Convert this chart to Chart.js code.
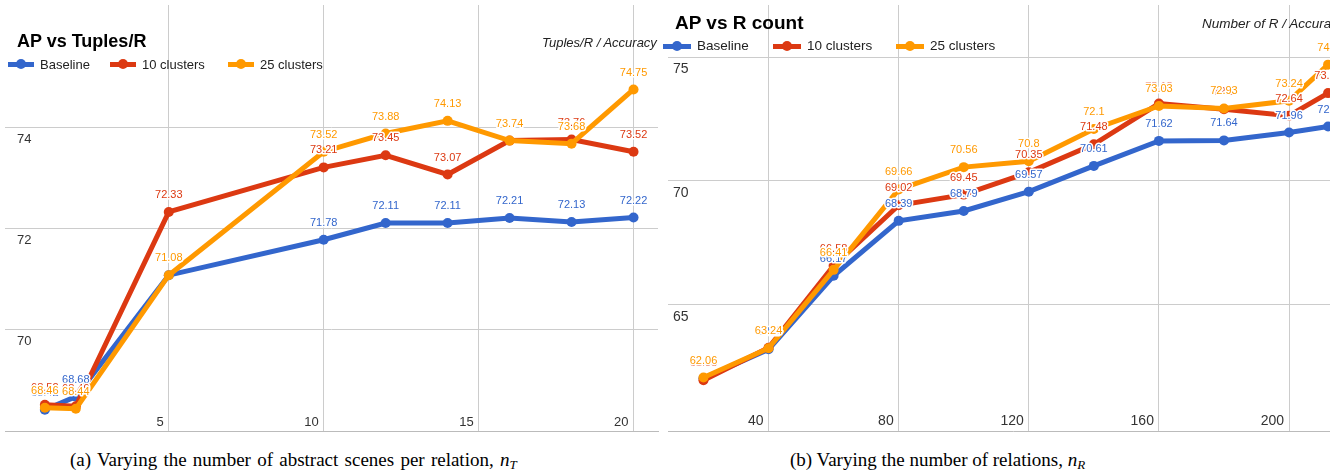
<!DOCTYPE html>
<html>
<head>
<meta charset="utf-8">
<script src="https://cdn.jsdelivr.net/npm/chart.js@4.4.0/dist/chart.umd.min.js"></script>
<style>
  html, body { margin: 0; padding: 0; background: #fff; }
  #wrap { position: relative; width: 1330px; height: 473px; overflow: hidden; }
  canvas { position: absolute; top: 0; }
  .t { position: absolute; white-space: nowrap; font-family: "Liberation Sans", Arial, sans-serif; color: #000; }
  .ttl { font-weight: bold; }
  .ax { font-style: italic; color: #222; }
  .mk { position: absolute; height: 5px; }
  .dot { position: absolute; width: 10px; height: 10px; border-radius: 50%; }
  .cap { position: absolute; white-space: nowrap; font-family: "Liberation Serif", "Times New Roman", serif; font-size: 19px; line-height: 19px; color: #000; }
  .cap sub { font-size: 13px; vertical-align: -3px; line-height: 0; }
</style>
</head>
<body>
<div id="wrap">
  <canvas id="left" width="663" height="436" style="left:0"></canvas>
  <canvas id="right" width="700" height="436" style="left:663px"></canvas>

  <div class="t ttl" style="left:17px;top:32px;font-size:18px;line-height:18px">AP vs Tuples/R</div>
  <div class="t ax" style="left:542px;top:36px;font-size:13px;line-height:13px">Tuples/R / Accuracy</div>

  <div class="t ttl" style="left:675px;top:13px;font-size:19px;line-height:19px">AP vs R count</div>
  <div class="t ax" style="left:1202px;top:17px;font-size:13.5px;line-height:13.5px">Number of R / Accuracy</div>

  <div class="cap" style="left:70px;top:450px;word-spacing:1.5px">(a) Varying the number of abstract scenes per relation, <i>n</i><sub><i>T</i></sub></div>
  <div class="cap" style="left:790px;top:450px">(b) Varying the number of relations, <i>n</i><sub><i>R</i></sub></div>
</div>
<script>
// series names / colours
const seriesNames = ['Baseline', '10 clusters', '25 clusters'];
const seriesColors = ['#3366cc', '#dc3912', '#ff9900'];

// (a) AP vs tuples per relation
const xTuples = [1, 2, 5, 10, 12, 14, 16, 18, 20];
const baselineT = [68.42, 68.68, 71.08, 71.78, 72.11, 72.11, 72.21, 72.13, 72.22];
const clusters10T = [68.52, 68.49, 72.33, 73.21, 73.45, 73.07, 73.74, 73.76, 73.52];
const clusters25T = [68.46, 68.44, 71.08, 73.52, 73.88, 74.13, 73.74, 73.68, 74.75];
const xTicksT = [5, 10, 15, 20];
const yTicksT = [70, 72, 74];

// (b) AP vs number of relations
const xRCount = [20, 40, 60, 80, 100, 120, 140, 160, 180, 200, 212];
const baselineR = [62.03, 63.2, 66.17, 68.39, 68.79, 69.57, 70.61, 71.62, 71.64, 71.96, 72.2];
const clusters10R = [61.95, 63.26, 66.58, 69.02, 69.45, 70.35, 71.48, 73.13, 72.9, 72.64, 73.55];
const clusters25R = [62.06, 63.24, 66.41, 69.66, 70.56, 70.8, 72.1, 73.03, 72.93, 73.24, 74.7];
const xTicksR = [40, 80, 120, 160, 200];
const yTicksR = [65, 70, 75];

const FONT = '"Liberation Sans", Arial, sans-serif';

// value annotations drawn above every point, white halo like google charts
const valueLabels = {
  id: 'valueLabels',
  afterDatasetsDraw(chart) {
    const ctx = chart.ctx;
    ctx.save();
    ctx.font = '11px ' + FONT;
    ctx.textAlign = 'center';
    ctx.textBaseline = 'middle';
    ctx.lineJoin = 'round';
    chart.data.datasets.forEach((ds, i) => {
      chart.getDatasetMeta(i).data.forEach((pt, j) => {
        const txt = String(ds.data[j].y);
        const y = pt.y - 17;
        ctx.lineWidth = 3;
        ctx.strokeStyle = '#fff';
        ctx.strokeText(txt, pt.x, y);
        ctx.fillStyle = ds.borderColor;
        ctx.fillText(txt, pt.x, y);
      });
    });
    ctx.restore();
  }
};

// axes take no room: the chart area fills the canvas, labels sit inside it
function flat(s) {
  if (s.isHorizontal()) s.height = 0; else s.width = 0;
  s.paddingTop = s.paddingBottom = s.paddingLeft = s.paddingRight = 0;
}

function makeChart(id, xs, series, o) {
  const datasets = series.map((vals, i) => ({
    label: seriesNames[i],
    data: vals.map((v, j) => ({ x: xs[j], y: v })),
    borderColor: seriesColors[i],
    backgroundColor: seriesColors[i],
    pointBackgroundColor: seriesColors[i],
    pointBorderWidth: 0,
    pointRadius: 5,
    borderWidth: 5,
    tension: 0,
    order: 3 - i
  }));
  return new Chart(document.getElementById(id), {
    type: 'line',
    data: { datasets },
    plugins: [valueLabels],
    options: {
      responsive: false,
      animation: false,
      layout: { padding: { left: 0, right: 0, top: 0, bottom: 4 } },
      plugins: { legend: { display: false }, tooltip: { enabled: false } },
      scales: {
        x: {
          type: 'linear', min: o.xMin, max: o.xMax,
          afterFit: flat,
          afterBuildTicks: s => { s.ticks = o.xTicks.map(v => ({ value: v })); },
          grid: { color: '#cccccc', drawTicks: false },
          border: { display: true, color: '#bbbbbb' },
          ticks: { mirror: true, autoSkip: false, align: 'end', labelOffset: -5, padding: 1,
                   font: { family: FONT, size: o.tickSize }, color: '#333' }
        },
        y: {
          type: 'linear', min: o.yMin, max: o.yMax,
          afterFit: flat,
          afterBuildTicks: s => { s.ticks = o.yTicks.map(v => ({ value: v })); },
          grid: { color: '#cccccc', drawTicks: false },
          border: { display: false },
          ticks: { mirror: true, autoSkip: false, padding: o.yPad, labelOffset: 12,
                   font: { family: FONT, size: o.tickSize }, color: '#333' }
        }
      }
    }
  });
}

makeChart('left', xTuples, [baselineT, clusters10T, clusters25T], {
  xMin: -0.286, xMax: 20.79, yMin: 68, yMax: 76.42,
  xTicks: xTicksT, yTicks: yTicksT, tickSize: 13, yPad: 12
});
makeChart('right', xRCount, [baselineR, clusters10R, clusters25R], {
  xMin: 9.09, xMax: 221.2, yMin: 59.9, yMax: 77.11,
  xTicks: xTicksR, yTicks: yTicksR, tickSize: 14, yPad: 5
});

// legends (html), one row per chart
function legend(startXs, lineW, top, size) {
  const wrap = document.getElementById('wrap');
  seriesNames.forEach((name, i) => {
    const x = startXs[i];
    const mk = document.createElement('div');
    mk.className = 'mk';
    mk.style.cssText = `left:${x}px;top:${top - 2.5}px;width:${lineW}px;background:${seriesColors[i]}`;
    const dot = document.createElement('div');
    dot.className = 'dot';
    dot.style.cssText = `left:${x + lineW / 2 - 5}px;top:${top - 5}px;background:${seriesColors[i]}`;
    const t = document.createElement('div');
    t.className = 't';
    t.textContent = name;
    t.style.cssText = `left:${x + lineW + 6}px;top:${top - size * 0.49}px;font-size:${size}px;line-height:${size}px;color:#222`;
    wrap.append(mk, dot, t);
  });
}
legend([8, 110, 228], 26, 64, 13);
legend([663, 773, 896], 28, 46, 13.5);
</script>
</body>
</html>
